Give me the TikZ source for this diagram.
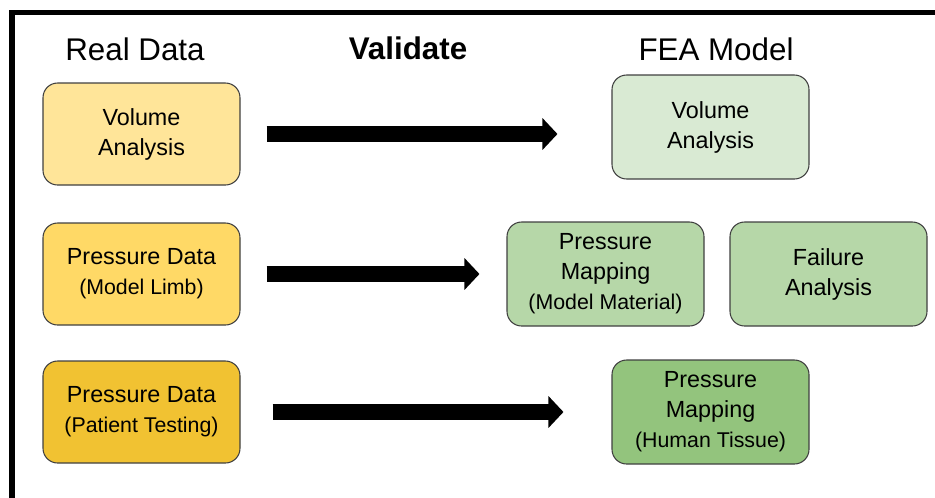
\documentclass[tikz,border=0pt]{standalone}
\usepackage{fontspec}
\setmainfont{Liberation Sans}
\usetikzlibrary{arrows.meta}

\definecolor{ylwA}{HTML}{FFE599}
\definecolor{ylwB}{HTML}{FFD966}
\definecolor{ylwC}{HTML}{F1C232}
\definecolor{grnA}{HTML}{D9EAD3}
\definecolor{grnB}{HTML}{B6D7A8}
\definecolor{grnC}{HTML}{93C47D}
\definecolor{edge}{HTML}{404040}

% smaller second line inside the boxes
\newcommand{\subline}[1]{{\fontsize{16}{19}\selectfont #1}}

\begin{document}
\begin{tikzpicture}[x=0.75pt, y=-0.75pt,
    box/.style={draw=edge, line width=0.8pt, rounded corners=11pt,
      minimum width=147.75pt, minimum height=76.5pt, inner sep=0pt,
      align=center, font=\fontsize{17.5}{22.5}\selectfont},
    heading/.style={anchor=base, font=\fontsize{23.5}{28}\selectfont},
    bigarrow/.style={line width=12pt, -{Triangle[length=11.25pt, width=23.25pt]}}]
  \useasboundingbox (0,0) rectangle (935,497);
  % frame on top and left
  \draw[line width=4pt] (12,510) -- (12,12.5) -- (950,12.5);
  %
  \node[heading] (realhd) at (135,60) {Real Data};
  \node[heading, font=\fontsize{23.5}{28}\selectfont\bfseries] (valhd) at (408,59) {Validate};
  \node[heading] (feahd) at (716,60) {FEA Model};
  %
  \node[box, fill=ylwA] (rvol) at (141.5,134) {Volume\\Analysis};
  \node[box, fill=ylwB] (rlimb) at (141.5,274) {Pressure Data\\\subline{(Model Limb)}};
  \node[box, fill=ylwC] (rpat) at (141.5,412) {Pressure Data\\\subline{(Patient Testing)}};
  %
  \node[box, fill=grnA, minimum height=78pt] (fvol) at (710.5,127) {Volume\\Analysis};
  \node[box, fill=grnB, minimum height=78pt] (fmat) at (605.5,274) {Pressure\\Mapping\\\subline{(Model Material)}};
  \node[box, fill=grnB, minimum height=78pt] (ffail) at (828.5,274) {Failure\\Analysis};
  \node[box, fill=grnC, minimum height=78pt] (ftis) at (710.5,412) {Pressure\\Mapping\\\subline{(Human Tissue)}};
  %
  \draw[bigarrow, shorten <=19.5pt, shorten >=40.5pt] (rvol.east) -- (rvol.east -| fvol.west);
  \draw[bigarrow, shorten <=19.5pt, shorten >=20.25pt] (rlimb.east) -- (fmat.west);
  \draw[bigarrow, shorten <=24pt, shorten >=36pt] (rpat.east) -- (ftis.west);
\end{tikzpicture}
\end{document}
